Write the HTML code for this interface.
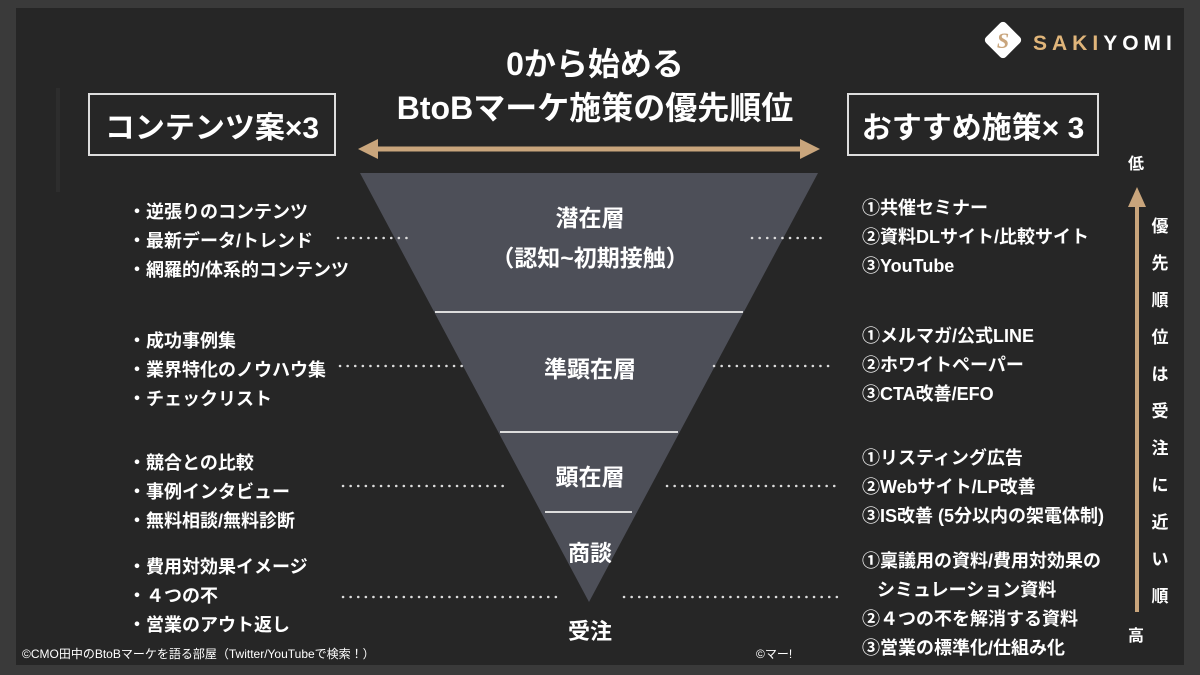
<!DOCTYPE html>
<html><head><meta charset="utf-8"><style>
body{margin:0;width:1200px;height:675px;background:#3a3a3a;overflow:hidden;font-family:"Liberation Sans","Noto Sans CJK JP",sans-serif;color:#fff;font-weight:bold}
.p{position:absolute;left:16px;top:8px;width:1168px;height:657px;background:#262626}
.a{position:absolute;white-space:nowrap}
.box{position:absolute;border:2px solid #ddd;box-sizing:border-box;font-size:30px;display:flex;align-items:center;justify-content:center}
.l{font-size:18px;line-height:29px}
.r{font-size:18px;line-height:29px}
</style></head><body>
<div class="p"></div>
<div style="position:absolute;left:56px;top:88px;width:4px;height:104px;background:#2d2d2d"></div>
<svg width="1200" height="675" style="position:absolute;left:0;top:0">
<polygon points="360,173 818,173 589,602" fill="#4d4f58"/>
<line x1="435" y1="312" x2="743" y2="312" stroke="#ddd" stroke-width="2"/>
<line x1="500" y1="432" x2="678" y2="432" stroke="#ddd" stroke-width="2"/>
<line x1="545" y1="512" x2="632" y2="512" stroke="#ddd" stroke-width="2"/>
<g stroke="#ddd" stroke-width="2.5" stroke-dasharray="0.1 7.5" stroke-linecap="round">
<line x1="338" y1="238" x2="412" y2="238"/><line x1="752" y1="238" x2="828" y2="238"/>
<line x1="340" y1="366" x2="462" y2="366"/><line x1="714" y1="366" x2="830" y2="366"/>
<line x1="343" y1="486" x2="510" y2="486"/><line x1="667" y1="486" x2="835" y2="486"/>
<line x1="343" y1="597" x2="557" y2="597"/><line x1="624" y1="597" x2="842" y2="597"/>
</g>
<line x1="375" y1="149" x2="805" y2="149" stroke="#c9a57c" stroke-width="5"/>
<polygon points="358,149 378,139 378,159" fill="#c9a57c"/>
<polygon points="820,149 800,139 800,159" fill="#c9a57c"/>
<line x1="1137" y1="205" x2="1137" y2="612" stroke="#c9a57c" stroke-width="4"/>
<polygon points="1137,187 1128,207 1146,207" fill="#c9a57c"/>
<g transform="translate(1003,40) rotate(45)"><rect x="-14" y="-14" width="28" height="28" rx="4" fill="#fff"/></g>
<text x="1003" y="48" font-size="22" fill="#c9a57c" text-anchor="middle" font-family="Liberation Serif,serif" font-style="italic">S</text>
<text x="1033" y="50" font-size="21" fill="#e0b57a" letter-spacing="5" font-family="Liberation Sans,sans-serif">SAKI<tspan fill="#fff">YOMI</tspan></text>
</svg>
<div class="a" style="left:340px;top:42px;width:510px;text-align:center;font-size:32px;line-height:44px">0から始める<br>BtoBマーケ施策の優先順位</div>
<div class="box" style="left:88px;top:93px;width:248px;height:63px">コンテンツ案×3</div>
<div class="box" style="left:847px;top:93px;width:252px;height:63px">おすすめ施策× 3</div>
<div class="a" style="left:440px;top:198px;width:300px;text-align:center;font-size:23px;line-height:40px">潜在層<br>（認知~初期接触）</div>
<div class="a" style="left:440px;top:350px;width:300px;text-align:center;font-size:23px">準顕在層</div>
<div class="a" style="left:440px;top:458px;width:300px;text-align:center;font-size:23px">顕在層</div>
<div class="a" style="left:440px;top:536px;width:300px;text-align:center;font-size:22px">商談</div>
<div class="a" style="left:440px;top:614px;width:300px;text-align:center;font-size:22px">受注</div>
<div class="a l" style="left:128px;top:198px">・逆張りのコンテンツ<br>・最新データ/トレンド<br>・網羅的/体系的コンテンツ</div>
<div class="a l" style="left:128px;top:327px">・成功事例集<br>・業界特化のノウハウ集<br>・チェックリスト</div>
<div class="a l" style="left:128px;top:449px">・競合との比較<br>・事例インタビュー<br>・無料相談/無料診断</div>
<div class="a l" style="left:128px;top:553px">・費用対効果イメージ<br>・４つの不<br>・営業のアウト返し</div>
<div class="a r" style="left:862px;top:194px">①共催セミナー<br>②資料DLサイト/比較サイト<br>③YouTube</div>
<div class="a r" style="left:862px;top:322px">①メルマガ/公式LINE<br>②ホワイトペーパー<br>③CTA改善/EFO</div>
<div class="a r" style="left:862px;top:444px">①リスティング広告<br>②Webサイト/LP改善<br>③IS改善 (5分以内の架電体制)</div>
<div class="a r" style="left:862px;top:547px">①稟議用の資料/費用対効果の<br>&nbsp;&nbsp;&nbsp;シミュレーション資料<br>②４つの不を解消する資料<br>③営業の標準化/仕組み化</div>
<div class="a" style="left:1128px;top:150px;font-size:16px">低</div>
<div class="a" style="left:1128px;top:622px;font-size:16px">高</div>
<div class="a" style="left:1150px;top:208px;font-size:17px;line-height:37px;width:20px;white-space:normal;text-align:center">優先順位は受注に近い順</div>
<div class="a" style="left:22px;top:645px;font-size:12px;font-weight:normal">©CMO田中のBtoBマーケを語る部屋（Twitter/YouTubeで検索！）</div>
<div class="a" style="left:756px;top:645px;font-size:12px;font-weight:normal">©マー!</div>
</body></html>
